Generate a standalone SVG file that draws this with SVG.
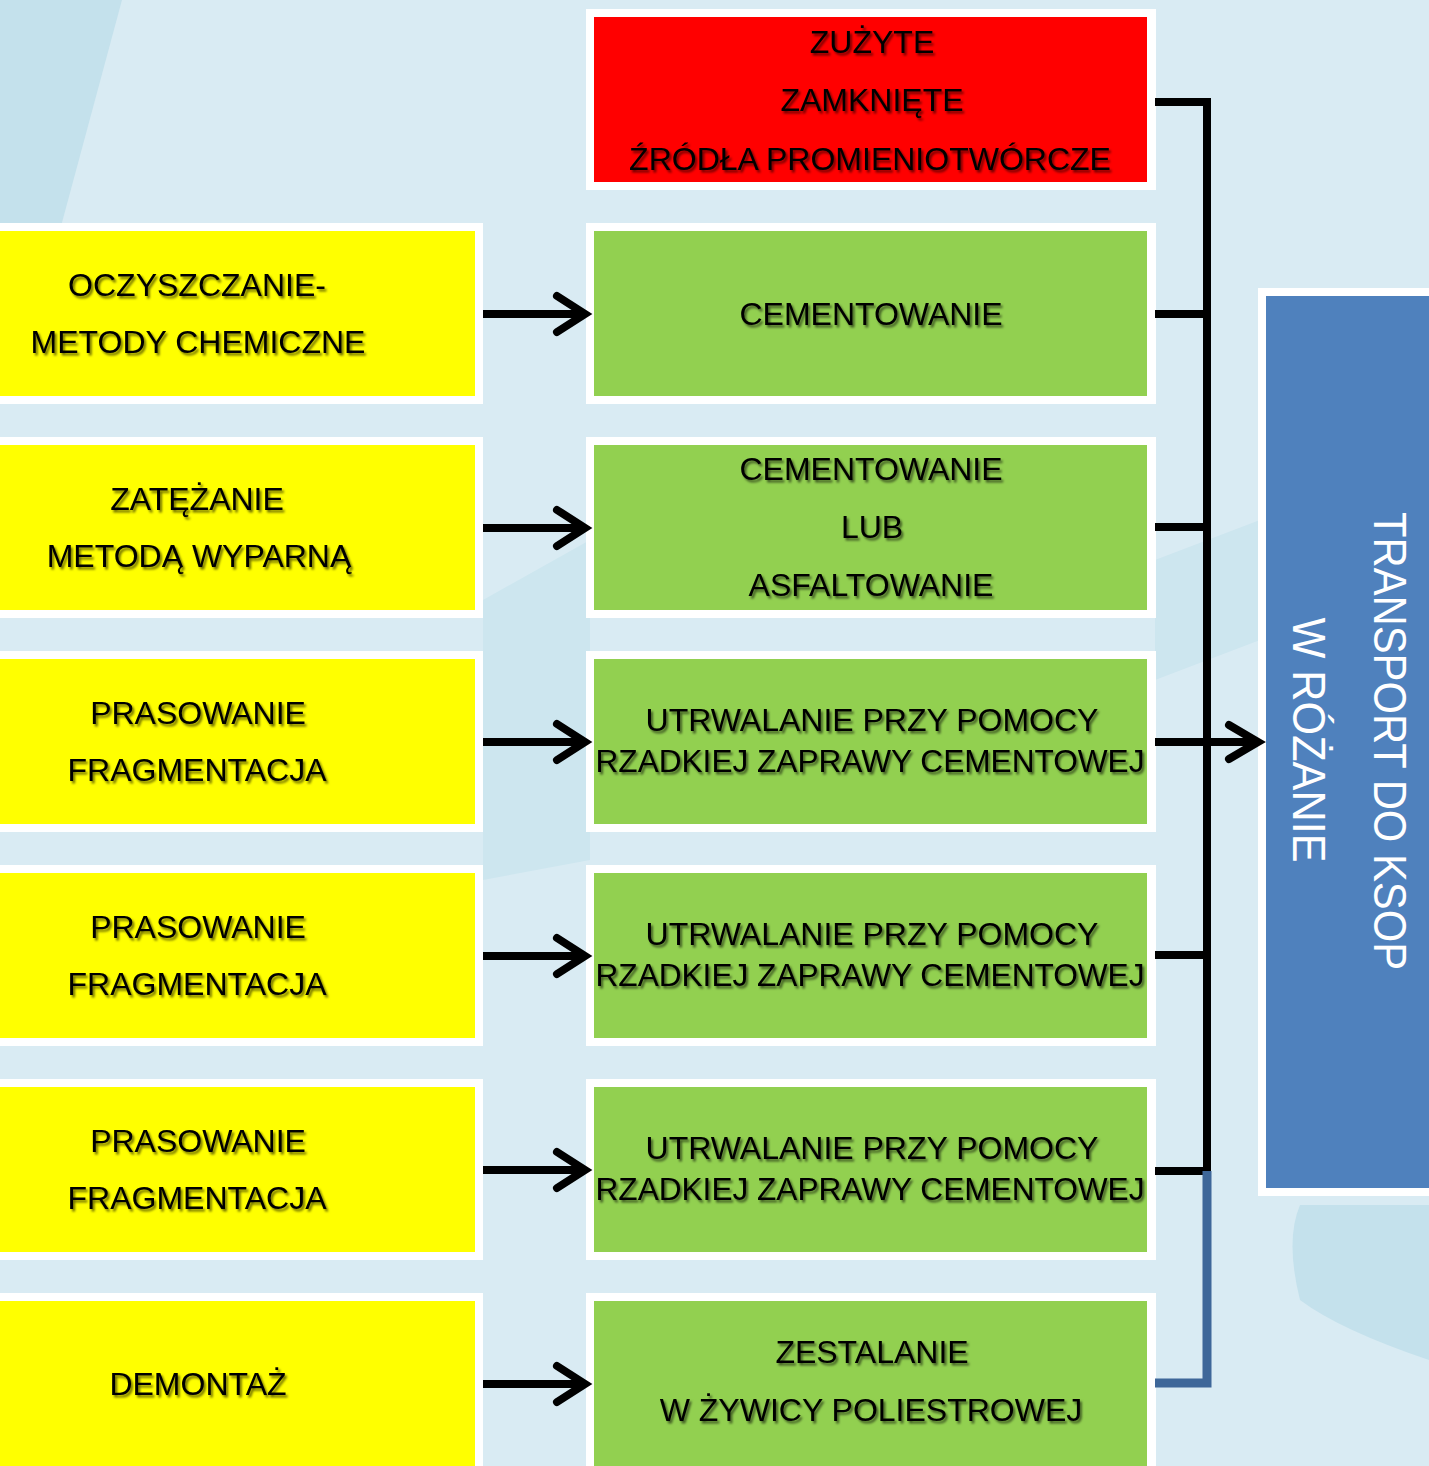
<svg xmlns="http://www.w3.org/2000/svg" width="1429" height="1466" viewBox="0 0 1429 1466">
  <style>
    .frame { fill: #ffffff; }
    .yellow { fill: #ffff00; }
    .green { fill: #92d050; }
    .red { fill: #ff0000; }
    .blue { fill: #4f81bd; }
    .t { font-family: "Liberation Sans", Arial, sans-serif; font-size: 32px; fill: #000000; text-anchor: middle; filter: url(#shadow); }
    .v { font-family: "Liberation Sans", Arial, sans-serif; font-size: 46px; fill: #ffffff; text-anchor: middle; }
    .link { fill: none; stroke: #000000; stroke-width: 8; stroke-linejoin: miter; }
    .head { fill: none; stroke: #000000; stroke-width: 8; stroke-linecap: round; stroke-linejoin: miter; }
    .tail { fill: none; stroke: #3e6799; stroke-width: 9; }
  </style>
  <defs>
    <filter id="shadow" x="-10%" y="-30%" width="130%" height="170%">
      <feDropShadow dx="2" dy="2.5" stdDeviation="1.3" flood-color="#000000" flood-opacity="0.55"/>
    </filter>
  </defs>

  <!-- backdrop -->
  <rect x="0" y="0" width="1429" height="1466" fill="#d9ebf3"/>
  <g fill="#c4e1ec">
    <polygon points="0,0 122,0 60,230 0,230"/>
    <path d="M1300,1205 L1429,1205 L1429,1360 Q1340,1330 1300,1300 Q1285,1240 1300,1205 Z"/>
  </g>
  <g fill="#cde6ef">
    <polygon points="483,600 590,540 590,860 483,880"/>
    <polygon points="1155,560 1260,520 1260,640 1155,680"/>
  </g>

  <!-- source nodes (left column) -->
  <g id="src-oczyszczanie">
    <rect class="frame" x="-88" y="223" width="571" height="181"/>
    <rect class="yellow" x="-80" y="231" width="555" height="165"/>
    <text class="t" x="197" y="296">OCZYSZCZANIE-</text>
    <text class="t" x="198" y="353">METODY CHEMICZNE</text>
  </g>
  <g id="src-zatezanie">
    <rect class="frame" x="-88" y="437" width="571" height="181"/>
    <rect class="yellow" x="-80" y="445" width="555" height="165"/>
    <text class="t" x="197" y="510">ZATĘŻANIE</text>
    <text class="t" x="199" y="567">METODĄ WYPARNĄ</text>
  </g>
  <g id="src-prasowanie-1">
    <rect class="frame" x="-88" y="651" width="571" height="181"/>
    <rect class="yellow" x="-80" y="659" width="555" height="165"/>
    <text class="t" x="198" y="724">PRASOWANIE</text>
    <text class="t" x="197" y="781">FRAGMENTACJA</text>
  </g>
  <g id="src-prasowanie-2">
    <rect class="frame" x="-88" y="865" width="571" height="181"/>
    <rect class="yellow" x="-80" y="873" width="555" height="165"/>
    <text class="t" x="198" y="938">PRASOWANIE</text>
    <text class="t" x="197" y="995">FRAGMENTACJA</text>
  </g>
  <g id="src-prasowanie-3">
    <rect class="frame" x="-88" y="1079" width="571" height="181"/>
    <rect class="yellow" x="-80" y="1087" width="555" height="165"/>
    <text class="t" x="198" y="1152">PRASOWANIE</text>
    <text class="t" x="197" y="1209">FRAGMENTACJA</text>
  </g>
  <g id="src-demontaz">
    <rect class="frame" x="-88" y="1293" width="571" height="181"/>
    <rect class="yellow" x="-80" y="1301" width="555" height="165"/>
    <text class="t" x="198" y="1395">DEMONTAŻ</text>
  </g>

  <!-- treatment nodes (middle column) -->
  <g id="zrodla">
    <rect class="frame" x="586" y="9" width="570" height="181"/>
    <rect class="red" x="594" y="17" width="553" height="165"/>
    <text class="t" x="872" y="53">ZUŻYTE</text>
    <text class="t" x="872" y="111">ZAMKNIĘTE</text>
    <text class="t" x="870" y="170">ŹRÓDŁA PROMIENIOTWÓRCZE</text>
  </g>
  <g id="cementowanie">
    <rect class="frame" x="586" y="223" width="570" height="181"/>
    <rect class="green" x="594" y="231" width="553" height="165"/>
    <text class="t" x="871" y="325">CEMENTOWANIE</text>
  </g>
  <g id="cementowanie-asfaltowanie">
    <rect class="frame" x="586" y="437" width="570" height="181"/>
    <rect class="green" x="594" y="445" width="553" height="165"/>
    <text class="t" x="871" y="480">CEMENTOWANIE</text>
    <text class="t" x="872" y="538">LUB</text>
    <text class="t" x="871" y="596">ASFALTOWANIE</text>
  </g>
  <g id="utrwalanie-1">
    <rect class="frame" x="586" y="651" width="570" height="181"/>
    <rect class="green" x="594" y="659" width="553" height="165"/>
    <text class="t" x="872" y="731">UTRWALANIE PRZY POMOCY</text>
    <text class="t" x="870" y="772" textLength="549" lengthAdjust="spacingAndGlyphs">RZADKIEJ ZAPRAWY CEMENTOWEJ</text>
  </g>
  <g id="utrwalanie-2">
    <rect class="frame" x="586" y="865" width="570" height="181"/>
    <rect class="green" x="594" y="873" width="553" height="165"/>
    <text class="t" x="872" y="945">UTRWALANIE PRZY POMOCY</text>
    <text class="t" x="870" y="986" textLength="549" lengthAdjust="spacingAndGlyphs">RZADKIEJ ZAPRAWY CEMENTOWEJ</text>
  </g>
  <g id="utrwalanie-3">
    <rect class="frame" x="586" y="1079" width="570" height="181"/>
    <rect class="green" x="594" y="1087" width="553" height="165"/>
    <text class="t" x="872" y="1159">UTRWALANIE PRZY POMOCY</text>
    <text class="t" x="870" y="1200" textLength="549" lengthAdjust="spacingAndGlyphs">RZADKIEJ ZAPRAWY CEMENTOWEJ</text>
  </g>
  <g id="zestalanie">
    <rect class="frame" x="586" y="1293" width="570" height="181"/>
    <rect class="green" x="594" y="1301" width="553" height="165"/>
    <text class="t" x="872" y="1363">ZESTALANIE</text>
    <text class="t" x="871" y="1421">W ŻYWICY POLIESTROWEJ</text>
  </g>

  <!-- destination node -->
  <g id="transport">
    <rect class="frame" x="1258" y="288" width="190" height="908"/>
    <rect class="blue" x="1266" y="296" width="180" height="892"/>
    <text class="v" transform="translate(1374,741) rotate(90)" textLength="458" lengthAdjust="spacingAndGlyphs">TRANSPORT DO KSOP</text>
    <text class="v" transform="translate(1293,740) rotate(90)" textLength="245" lengthAdjust="spacingAndGlyphs">W RÓŻANIE</text>
  </g>

  <!-- connectors -->
  <g id="connectors">
    <!-- left column into middle column -->
    <path class="link" d="M483,314 H582 M483,528 H582 M483,742 H582 M483,956 H582 M483,1170 H582 M483,1384 H582"/>
    <path class="head" d="M557,296 L585,314 L557,332 M557,510 L585,528 L557,546 M557,724 L585,742 L557,760 M557,938 L585,956 L557,974 M557,1152 L585,1170 L557,1188 M557,1366 L585,1384 L557,1402"/>
    <!-- collector bus on the right -->
    <path class="link" d="M1155,102 H1207 V1171 H1155 M1155,314 H1207 M1155,527 H1207 M1155,955 H1207"/>
    <path class="tail" d="M1207,1171 V1383 H1155"/>
    <path class="link" d="M1155,742 H1255"/>
    <path class="head" d="M1229,725 L1258,742 L1229,759"/>
  </g>
</svg>
